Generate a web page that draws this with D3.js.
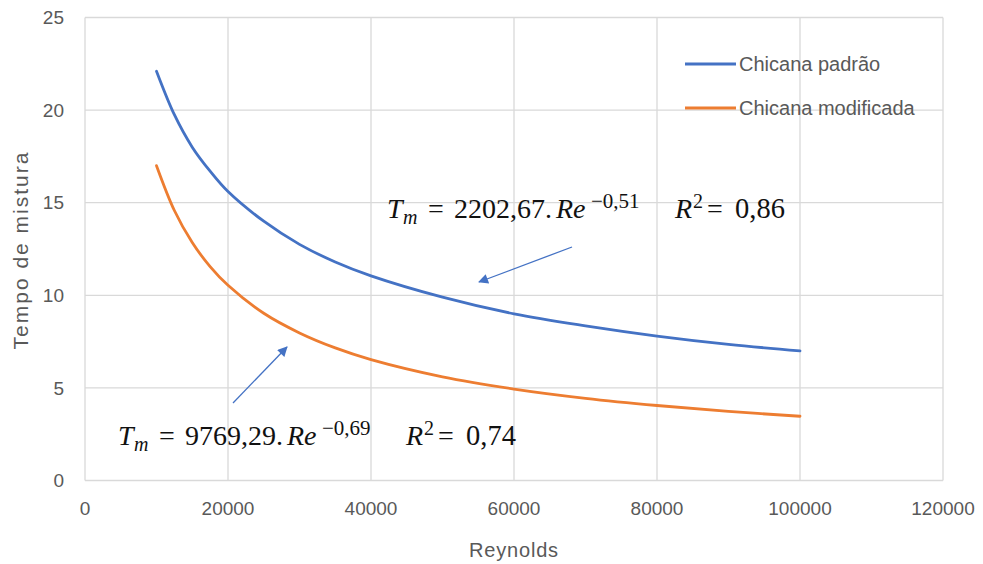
<!DOCTYPE html>
<html><head><meta charset="utf-8">
<script src="https://cdn.jsdelivr.net/npm/d3@7/dist/d3.min.js"></script>
<style>body{margin:0;background:#fff}svg{display:block}</style>
</head><body>
<svg id="c" width="983" height="564"></svg>
<script>
const reynolds = [10000,12500,15000,17500,20000,25000,30000,35000,40000,50000,60000,70000,80000,90000,100000];
const padrao = [22.1,19.75,18.0,16.7,15.6,14.0,12.75,11.8,11.05,9.9,9.0,8.35,7.8,7.35,7.0];
const modificada = [17.0,14.58,12.85,11.55,10.54,9.03,7.97,7.16,6.53,5.6,4.94,4.44,4.05,3.73,3.47];
const seriesNames = ["Chicana padrão","Chicana modificada"];
const xTicks = [0,20000,40000,60000,80000,100000,120000];
const yTicks = [0,5,10,15,20,25];

const svg = d3.select("#c");
const L=85,R=943,T=17.5,B=480.5;
const x = d3.scaleLinear().domain([0,120000]).range([L,R]);
const y = d3.scaleLinear().domain([0,25]).range([B,T]);
const grid="#d9d9d9", txt="#595959";
const font="'Liberation Sans', Arial, sans-serif";

svg.append("g").selectAll("line").data(xTicks).join("line")
  .attr("x1",d=>x(d)).attr("x2",d=>x(d)).attr("y1",T).attr("y2",B)
  .attr("stroke",grid).attr("stroke-width",1.3);
svg.append("g").selectAll("line").data(yTicks).join("line")
  .attr("x1",L).attr("x2",R).attr("y1",d=>y(d)).attr("y2",d=>y(d))
  .attr("stroke",grid).attr("stroke-width",1.3);

svg.append("g").selectAll("text").data(yTicks).join("text")
  .attr("x",64).attr("y",d=>y(d)).attr("dy","0.35em").attr("text-anchor","end")
  .attr("font-family",font).attr("font-size",19).attr("fill",txt).text(d=>d);
svg.append("g").selectAll("text").data(xTicks).join("text")
  .attr("x",d=>x(d)).attr("y",508).attr("dy","0.35em").attr("text-anchor","middle")
  .attr("font-family",font).attr("font-size",19).attr("fill",txt).text(d=>d);

svg.append("text").attr("x",514).attr("y",550).attr("dy","0.35em").attr("text-anchor","middle")
  .attr("font-family",font).attr("font-size",20).attr("letter-spacing",0.8).attr("fill",txt).text("Reynolds");
svg.append("text").attr("transform","translate(21,250) rotate(-90)").attr("dy","0.35em")
  .attr("text-anchor","middle").attr("font-family",font).attr("font-size",21).attr("letter-spacing",2)
  .attr("fill",txt).text("Tempo de mistura");

const line = d3.line().x((d,i)=>x(reynolds[i])).y(d=>y(d)).curve(d3.curveCatmullRom);
const colors=["#4472C4","#ED7D31"];
[padrao,modificada].forEach((s,k)=>{
  svg.append("path").attr("d",line(s)).attr("fill","none").attr("stroke",colors[k])
    .attr("stroke-width",2.8).attr("stroke-linecap","round");
});

const legY=[64,108];
seriesNames.forEach((n,k)=>{
  svg.append("line").attr("x1",685).attr("x2",736).attr("y1",legY[k]).attr("y2",legY[k])
    .attr("stroke",colors[k]).attr("stroke-width",2.8);
  svg.append("text").attr("x",739).attr("y",legY[k]).attr("dy","0.35em")
    .attr("font-family",font).attr("font-size",20).attr("fill",txt).text(n);
});

const defs=svg.append("defs");
defs.append("marker").attr("id","ah").attr("viewBox","0 0 10 10").attr("refX",9).attr("refY",5)
  .attr("markerUnits","userSpaceOnUse").attr("markerWidth",12).attr("markerHeight",10).attr("orient","auto")
  .append("path").attr("d","M0,0L10,5L0,10z").attr("fill","#4472C4");
[[572,247,479,282],[233,403,287,347]].forEach(a=>{
  svg.append("line").attr("x1",a[0]).attr("y1",a[1]).attr("x2",a[2]).attr("y2",a[3])
    .attr("stroke","#4472C4").attr("stroke-width",1.3).attr("marker-end","url(#ah)");
});

const mf="'Liberation Serif','Times New Roman',serif";
function eq(x0,yb,coef,expo,r2){
  const g=svg.append("g").attr("font-family",mf).attr("fill","#111");
  const put=(dx,dy,s,size,it)=>g.append("text").attr("x",x0+dx).attr("y",yb+dy)
    .attr("font-size",size).attr("font-style",it?"italic":"normal").text(s);
  put(0,0,"T",28,true);
  put(16,6,"m",20,true);
  put(41,0,"=",28,false);
  put(67,0,coef+".",28,false);
  put(169,0,"Re",28,true);
  put(204,-10,"−"+expo,21,false);
  put(288,0,"R",28,true);
  put(306,-10,"2",20,false);
  put(320,0,"=",28,false);
  put(348,0,r2,28.5,false);
}
eq(387,218,"2202,67","0,51","0,86");
eq(118,445,"9769,29","0,69","0,74");
</script>
</body></html>
